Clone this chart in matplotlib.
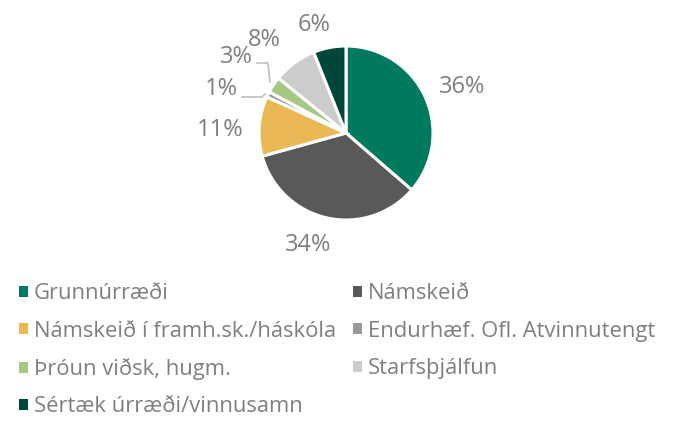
import matplotlib
matplotlib.use("Agg")
import matplotlib.pyplot as plt
from matplotlib.patches import Rectangle

plt.rcParams['font.family'] = ['Open Sans', 'DejaVu Sans']

categories = ["Grunnúrræði", "Námskeið", "Námskeið í framh.sk./háskóla",
              "Endurhæf. Ofl. Atvinnutengt", "Þróun viðsk, hugm.", "Starfsþjálfun",
              "Sértæk úrræði/vinnusamn"]
values = [36, 34, 11, 1, 3, 8, 6]
pct_labels = ["36%", "34%", "11%", "1%", "3%", "8%", "6%"]
colors = ["#007A5E", "#595959", "#EAB855", "#999999", "#A3C983", "#CCCCCC", "#00473A"]

text_color = "#7F7F7F"

W, H = 688, 422
fig = plt.figure(figsize=(W / 100, H / 100), dpi=100)

# pie axes: centre at (346,133) px, radius 87 px
L = 1.6
R_px = 87
S = 2 * L * R_px
cx, cy = 346, 133
ax = fig.add_axes([(cx - S / 2) / W, (H - cy - S / 2) / H, S / W, S / H])

wedges, _ = ax.pie(values, colors=colors, startangle=90, counterclock=False,
                   radius=1.0, wedgeprops=dict(edgecolor='white', linewidth=2.2))
ax.set_xlim(-L, L)
ax.set_ylim(-L, L)
ax.set_aspect('equal')
ax.axis('off')

# label positions (relative, in radius units)
label_pos = [(1.333, 0.529), (-0.437, -1.287), (-1.448, 0.034), (-1.437, 0.506),
             (-1.264, 0.874), (-0.943, 1.069), (-0.368, 1.241)]
for (x, y), t in zip(label_pos, pct_labels):
    ax.text(x, y, t, ha='center', va='center', fontsize=17, color=text_color)

# leader lines for the small slices
lc = "#BFBFBF"
ax.plot([-1.195, -0.966, -0.931], [0.414, 0.414, 0.448], color=lc, lw=1.2)
ax.plot([-1.023, -0.897, -0.874], [0.805, 0.805, 0.586], color=lc, lw=1.2)

# legend
order = [0, 2, 4, 6, 1, 3, 5]
handles = [Rectangle((0, 0), 1, 1, facecolor=colors[i], edgecolor='none') for i in order]
labels = [categories[i] for i in order]
leg = fig.legend(handles, labels, ncol=2, loc='upper left',
                 bbox_to_anchor=(3.5 / W, 1 - 268 / H), frameon=False,
                 fontsize=15.8, handlelength=0.41, handleheight=0.41,
                 handletextpad=0.27, columnspacing=0.78, labelspacing=0.745,
                 borderpad=0.2)
for t in leg.get_texts():
    t.set_color(text_color)

fig.savefig("out.png", dpi=100, facecolor='white')
